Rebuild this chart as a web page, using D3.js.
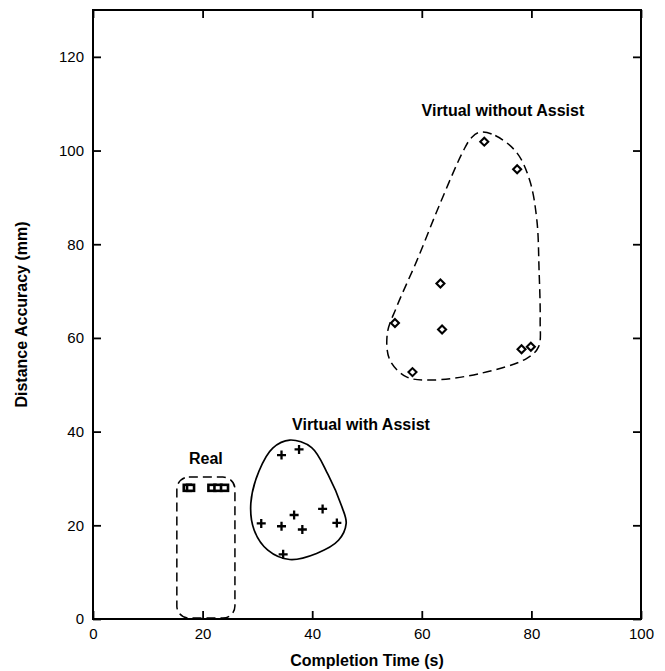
<!DOCTYPE html>
<html>
<head>
<meta charset="utf-8">
<script src="https://cdn.jsdelivr.net/npm/d3@7"></script>
<style>
  html, body { margin: 0; padding: 0; background: #fff; }
  svg { display: block; }
  text { font-family: "Liberation Sans", Arial, Helvetica, sans-serif; fill: #000; }
</style>
</head>
<body>
<svg id="chart" width="665" height="671"></svg>
<script>
// Completion time (s) vs distance accuracy (mm), three conditions
const realTime = [17.2, 17.8, 21.7, 22.8, 24.0];
const realAcc  = [28.0, 28.0, 28.0, 28.0, 28.0];

const assistTime = [34.4, 37.6, 30.7, 34.4, 36.7, 38.2, 41.9, 44.5, 34.7];
const assistAcc  = [35.0, 36.2, 20.4, 19.8, 22.2, 19.1, 23.5, 20.5, 13.8];

const noAssistTime = [71.4, 77.4, 63.4, 55.1, 63.7, 78.2, 79.9, 58.3];
const noAssistAcc  = [101.9, 96.0, 71.6, 63.2, 61.8, 57.6, 58.1, 52.7];

// Outline of each group (time, accuracy)
const realBox = { t0: 15.3, t1: 25.9, a0: 0.2, a1: 30.3 };
const assistOutline = [
  [35.9, 38.2], [39.9, 36.6], [42.9, 30.8], [45.4, 24.0], [46.2, 20.4],
  [44.8, 16.8], [40.8, 14.0], [35.9, 12.7], [31.9, 14.7], [29.4, 19.0],
  [28.8, 24.7], [30.3, 31.6], [32.8, 36.5]
];
const noAssistOutline = [
  [70.6, 103.9], [73.4, 103.2], [77.3, 99.6], [79.7, 93.6], [81.0, 85.1],
  [81.4, 74.4], [81.6, 63.8], [81.3, 58.1], [79.1, 55.6], [70.6, 52.4],
  [61.5, 51.0], [57.2, 51.7], [54.2, 55.2], [53.7, 60.9], [55.4, 66.6],
  [59.1, 76.5], [63.3, 88.6], [67.6, 100.0], [69.1, 102.8]
];

const xTicks = [0, 20, 40, 60, 80, 100];
const yTicks = [0, 20, 40, 60, 80, 100, 120];

const groupLabels = [
  { text: "Real", t: 20.6, a: 33.0 },
  { text: "Virtual with Assist", t: 48.9, a: 40.4 },
  { text: "Virtual without Assist", t: 74.8, a: 107.4 }
];

const svg = d3.select("#chart");
const m = { left: 93, right: 641, top: 10, bottom: 619 };

const x = d3.scaleLinear().domain([0, 100]).range([m.left, m.right]);
const y = d3.scaleLinear().domain([0, 130]).range([m.bottom, m.top]);

// axes with inward ticks on all four sides
const tickLen = 8;
const axisStyle = g => {
  g.select(".domain").remove();
  g.selectAll(".tick line").attr("stroke", "#000").attr("stroke-width", 1.8);
  g.selectAll(".tick text").attr("font-size", 15).style("font-family", '"Liberation Sans", Arial, sans-serif');
};

svg.append("g").attr("transform", `translate(0,${m.bottom})`)
  .call(d3.axisBottom(x).tickValues(xTicks).tickSize(-tickLen).tickPadding(9).tickFormat(d3.format("d")))
  .call(axisStyle);
svg.append("g").attr("transform", `translate(0,${m.top})`)
  .call(d3.axisTop(x).tickValues(xTicks).tickSize(-tickLen).tickFormat(""))
  .call(axisStyle);
svg.append("g").attr("transform", `translate(${m.left},0)`)
  .call(d3.axisLeft(y).tickValues(yTicks).tickSize(-tickLen).tickPadding(9).tickFormat(d3.format("d")))
  .call(axisStyle);
svg.append("g").attr("transform", `translate(${m.right},0)`)
  .call(d3.axisRight(y).tickValues(yTicks).tickSize(-tickLen).tickFormat(""))
  .call(axisStyle);

// frame
svg.append("rect")
  .attr("x", m.left).attr("y", m.top)
  .attr("width", m.right - m.left).attr("height", m.bottom - m.top)
  .attr("fill", "none").attr("stroke", "#000").attr("stroke-width", 2);

// axis titles
svg.append("text")
  .attr("x", (m.left + m.right) / 2).attr("y", 666)
  .attr("text-anchor", "middle").attr("font-size", 16).attr("font-weight", "bold")
  .text("Completion Time (s)");
svg.append("text")
  .attr("transform", `translate(27,${(m.top + m.bottom) / 2}) rotate(-90)`)
  .attr("text-anchor", "middle").attr("font-size", 16).attr("font-weight", "bold")
  .text("Distance Accuracy (mm)");

// group outlines
const outline = d3.line()
  .x(d => x(d[0])).y(d => y(d[1]))
  .curve(d3.curveCatmullRomClosed.alpha(0.5));

svg.append("rect")
  .attr("x", x(realBox.t0)).attr("y", y(realBox.a1))
  .attr("width", x(realBox.t1) - x(realBox.t0))
  .attr("height", y(realBox.a0) - y(realBox.a1))
  .attr("rx", 12).attr("ry", 12)
  .attr("fill", "none").attr("stroke", "#000").attr("stroke-width", 1.5)
  .attr("stroke-dasharray", "9,5");

svg.append("path")
  .attr("d", outline(assistOutline))
  .attr("fill", "none").attr("stroke", "#000").attr("stroke-width", 1.7);

svg.append("path")
  .attr("d", outline(noAssistOutline))
  .attr("fill", "none").attr("stroke", "#000").attr("stroke-width", 1.5)
  .attr("stroke-dasharray", "9,5");

// markers
svg.append("g").selectAll("rect")
  .data(d3.zip(realTime, realAcc))
  .join("rect")
  .attr("x", d => x(d[0]) - 3.5).attr("y", d => y(d[1]) - 3)
  .attr("width", 7).attr("height", 6)
  .attr("fill", "#fff").attr("stroke", "#000").attr("stroke-width", 2.6);

svg.append("g").selectAll("path")
  .data(d3.zip(assistTime, assistAcc))
  .join("path")
  .attr("transform", d => `translate(${x(d[0])},${y(d[1])})`)
  .attr("d", "M-4.5,0H4.5M0,-4.5V4.5")
  .attr("fill", "none").attr("stroke", "#000").attr("stroke-width", 2.3);

svg.append("g").selectAll("path")
  .data(d3.zip(noAssistTime, noAssistAcc))
  .join("path")
  .attr("transform", d => `translate(${x(d[0])},${y(d[1])})`)
  .attr("d", "M0,-4L4,0L0,4L-4,0Z")
  .attr("fill", "#fff").attr("stroke", "#000").attr("stroke-width", 2.1);

// group labels
svg.append("g").selectAll("text")
  .data(groupLabels)
  .join("text")
  .attr("x", d => x(d.t)).attr("y", d => y(d.a))
  .attr("text-anchor", "middle").attr("font-size", 16).attr("font-weight", "bold")
  .text(d => d.text);
</script>
</body>
</html>
